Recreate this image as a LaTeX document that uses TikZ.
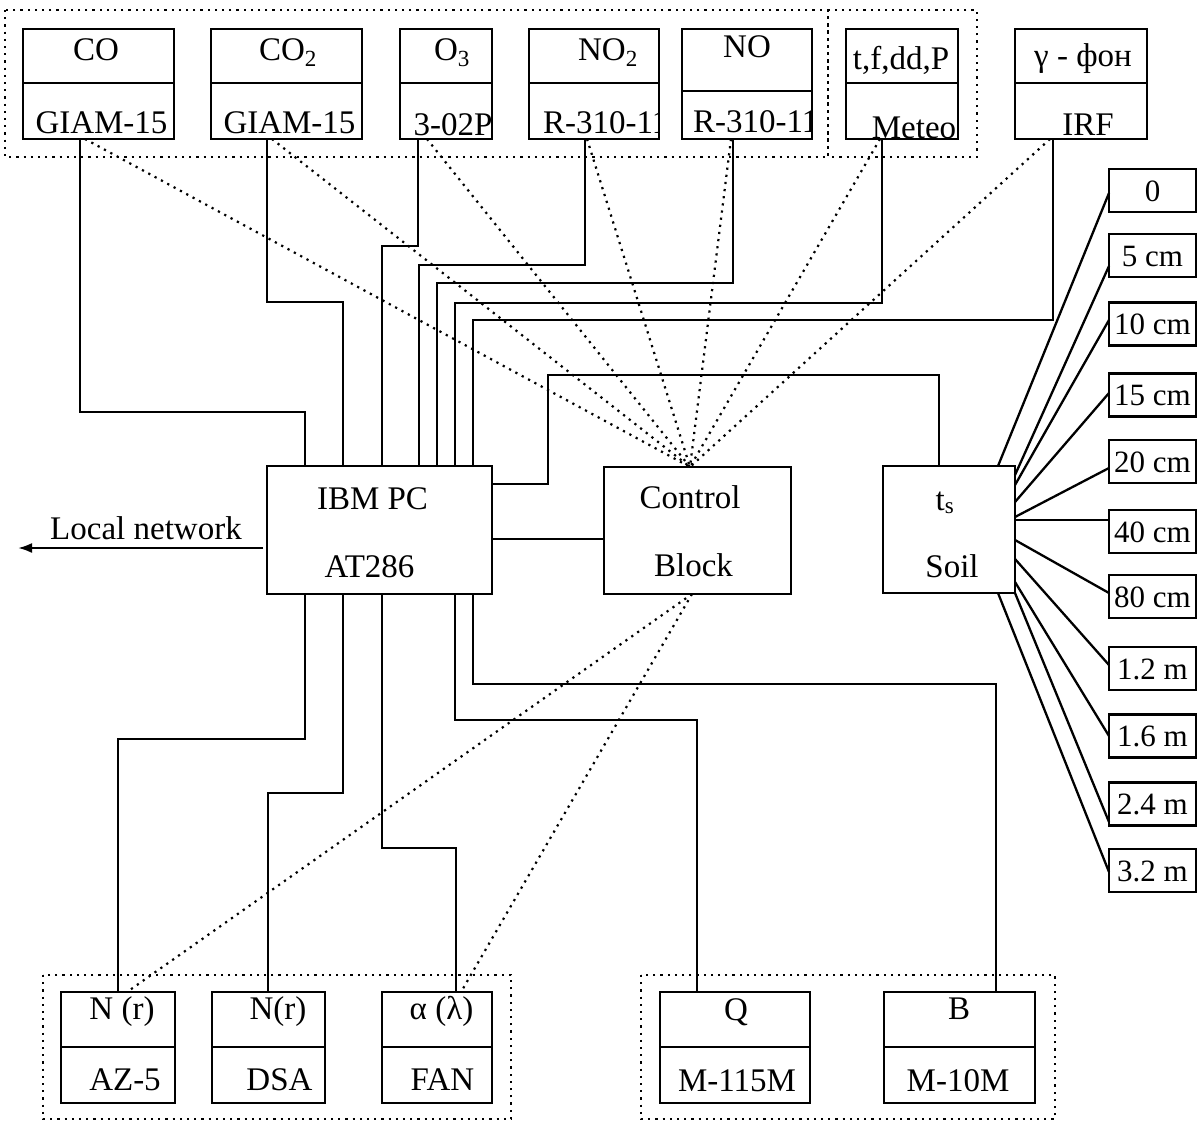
\documentclass[tikz,border=0pt]{standalone}
\usepackage{fontspec}
\setmainfont{Liberation Serif}
\usetikzlibrary{arrows.meta}
\newcommand\dualbox[6]{%
  \node[box, anchor=north west, minimum width={#4-#2}, minimum height={#5-#3}] (#1) at (#2,#3) {};
  \draw[wire] (#1.west |- 0,#6) -- (#1.east |- 0,#6);}
\begin{document}
\begin{tikzpicture}[x=1pt,y=-1pt,
  box/.style={draw, line width=2.4pt, rectangle, inner sep=0pt, outer sep=0pt},
  wire/.style={line width=2.3pt},
  dotline/.style={line width=2.2pt, dash pattern=on 2.2pt off 5pt},
  lbl/.style={anchor=base, inner sep=0pt, font=\fontsize{33}{40}\selectfont},
  dlbl/.style={font=\fontsize{31}{37}\selectfont, text height=21pt, text depth=0pt}]
\useasboundingbox (0,0) rectangle (1199,1122);

% dotted groups
\draw[dotline] (5,10) rectangle (828,157);
\draw[dotline] (828,10) rectangle (977,157);
\draw[dotline] (43,975) rectangle (511,1119);
\draw[dotline] (641,975) rectangle (1055,1119);

% top instrument boxes
\dualbox{co}{23}{29}{174}{139}{83}
\dualbox{coo}{211}{29}{362}{139}{83}
\dualbox{oz}{400}{29}{492}{139}{83}
\dualbox{nod}{529}{29}{659}{139}{83}
\node[box, anchor=north west, minimum width=130, minimum height=110] (no) at (682,29) {};
\draw[wire] (no.west |- 688,91) -- (no.east |- 0,91);
\dualbox{met}{846}{29}{958}{139}{83}
\dualbox{irf}{1015}{29}{1147}{139}{83}

% bottom instrument boxes
\dualbox{az}{61}{992}{175}{1103}{1047}
\dualbox{dsa}{212}{992}{325}{1103}{1047}
\dualbox{fan}{382}{992}{492}{1103}{1047}
\dualbox{q}{660}{992}{810}{1103}{1047}
\dualbox{b}{884}{992}{1035}{1103}{1047}

% central boxes
\node[box, anchor=north west, minimum width=225, minimum height=128] (ibm) at (267,466) {};
\node[box, anchor=north west, minimum width=187, minimum height=127] (ctrl) at (604,467) {};
\node[box, anchor=north west, minimum width=132, minimum height=127] (soil) at (883,466) {};

% depth boxes
\foreach \n/\y/\t in {d0/190.5/0, d5/255.5/5 cm, d10/324/10 cm, d15/395/15 cm, d20/461.5/20 cm, d40/531.5/40 cm, d80/596.5/80 cm, d12/668.5/1.2 m, d16/736/1.6 m, d24/804/2.4 m, d32/870.5/3.2 m}
  \node[box, dlbl, minimum width=87, minimum height=43] (\n) at (1152.5,\y) {\t};

% wires top
\draw[wire] (co.south -| 80,0) |- (305,412) -- (ibm.north -| 305,0);
\draw[wire] (coo.south -| 267,0) |- (343,302) -- (ibm.north -| 343,0);
\draw[wire] (oz.south -| 418,0) |- (382,246) -- (ibm.north -| 382,0);
\draw[wire] (nod.south -| 585,0) |- (419,265) -- (ibm.north -| 419,0);
\draw[wire] (no.south -| 733,0) |- (437,283) -- (ibm.north -| 437,0);
\draw[wire] (met.south -| 882,0) |- (455,303) -- (ibm.north -| 455,0);
\draw[wire] (irf.south -| 1053,0) |- (473,320) -- (ibm.north -| 473,0);
\draw[wire] (ibm.east |- 0,484) -| (548,375) -| (soil.north -| 939,0);
\draw[wire] (ibm.east |- 0,539) -- (ctrl.west |- 0,539);

% wires bottom
\draw[wire] (ibm.south -| 305,0) |- (118,739) -- (az.north -| 118,0);
\draw[wire] (ibm.south -| 343,0) |- (268,793) -- (dsa.north -| 268,0);
\draw[wire] (ibm.south -| 382,0) |- (456,848) -- (fan.north -| 456,0);
\draw[wire] (ibm.south -| 455,0) |- (697,720) -- (q.north -| 697,0);
\draw[wire] (ibm.south -| 473,0) |- (996,684) -- (b.north -| 996,0);

% local network
\coordinate (lan) at (18,548);
\draw[wire, shorten <=4pt, -{Latex[length=14pt,width=10pt]}] (ibm.west |- 0,548) -- (lan);

% soil fan
\draw[wire] (soil.north -| 998,0) -- (d0.west |- 0,193);
\draw[wire] (soil.east |- 0,475) -- (d5.west |- 0,266);
\draw[wire] (soil.east |- 0,485) -- (d10.west |- 0,320);
\draw[wire] (soil.east |- 0,502) -- (d15.west |- 0,393);
\draw[wire] (soil.east |- 0,517) -- (d20.west |- 0,468);
\draw[wire] (soil.east |- 0,520) -- (d40.west |- 0,520);
\draw[wire] (soil.east |- 0,540) -- (d80.west |- 0,593);
\draw[wire] (soil.east |- 0,559) -- (d12.west |- 0,665);
\draw[wire] (soil.east |- 0,582) -- (d16.west |- 0,736);
\draw[wire] (soil.south -| 1015,0) -- (d24.west |- 0,822);
\draw[wire] (soil.south -| 998,0) -- (d32.west |- 0,872);

% dotted control lines
\draw[dotline] (co.south -| 85,0) -- (ctrl.north -| 690,0);
\draw[dotline] (coo.south -| 272,0) -- (ctrl.north -| 690,0);
\draw[dotline] (oz.south -| 427,0) -- (ctrl.north -| 690,0);
\draw[dotline] (nod.south -| 587,0) -- (ctrl.north -| 690,0);
\draw[dotline] (no.south -| 731,0) -- (ctrl.north -| 690,0);
\draw[dotline] (met.south -| 880,0) -- (ctrl.north -| 690,0);
\draw[dotline] (irf.south -| 1050,0) -- (ctrl.north -| 690,0);
\draw[dotline] (ctrl.south -| 692,0) -- (az.north -| 127,0);
\draw[dotline] (ctrl.south -| 692,0) -- (fan.north -| 461,0);

% labels top
\node[lbl] (co-t) at (96,60) {CO};
\node[lbl] (co-b) at (101.5,133) {GIAM-15};
\node[lbl] (coo-t) at (288,60) {CO\textsubscript{2}};
\node[lbl] (coo-b) at (289.5,133) {GIAM-15};
\node[lbl] (oz-t) at (452,60) {O\textsubscript{3}};
\node[lbl] (oz-b) at (453,135) {3-02P};
\node[lbl] (nod-t) at (608,60) {NO\textsubscript{2}};
\begin{scope}
  \clip (nod.north west) rectangle (nod.south east);
  \node[lbl, anchor=base west] (nod-b) at (543,133) {R-310-11};
\end{scope}
\node[lbl] (no-t) at (747,57) {NO};
\begin{scope}
  \clip (no.north west) rectangle (no.south east);
  \node[lbl, anchor=base west] (no-b) at (693,132) {R-310-11};
\end{scope}
\node[lbl] (met-t) at (901,69) {t,f,dd,P};
\node[lbl] (met-b) at (914,138) {Meteo};
\node[lbl] (irf-t) at (1083,66) {γ - фон};
\node[lbl] (irf-b) at (1088,135) {IRF};

% labels centre
\node[lbl] (ibm-t) at (372.5,509) {IBM PC};
\node[lbl] (ibm-b) at (369.5,577) {AT286};
\node[lbl] (ctrl-t) at (690,508) {Control};
\node[lbl] (ctrl-b) at (693.5,576) {Block};
\node[lbl] (soil-t) at (945,510) {t\textsubscript{s}};
\node[lbl] (soil-b) at (952,577) {Soil};
\node[lbl] (lan-t) at (146,539) {Local network};

% labels bottom
\node[lbl] (az-t) at (122,1019) {N (r)};
\node[lbl] (az-b) at (125,1090) {AZ-5};
\node[lbl] (dsa-t) at (278,1019) {N(r)};
\node[lbl] (dsa-b) at (279.5,1090) {DSA};
\node[lbl] (fan-t) at (441.5,1019) {α (λ)};
\node[lbl] (fan-b) at (442.5,1090) {FAN};
\node[lbl] (q-t) at (736,1020) {Q};
\node[lbl] (q-b) at (737,1091) {M-115M};
\node[lbl] (b-t) at (959,1019) {B};
\node[lbl] (b-b) at (958,1091) {M-10M};
\end{tikzpicture}
\end{document}
